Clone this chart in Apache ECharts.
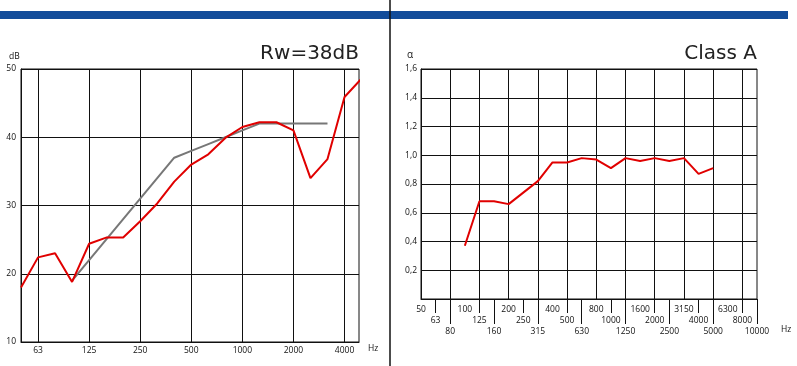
<!DOCTYPE html>
<html>
<head>
<meta charset="utf-8">
<script src="https://cdn.jsdelivr.net/npm/echarts@6/dist/echarts.min.js"></script>
<style>
html,body{margin:0;padding:0;background:#fff;}
#c{width:797px;height:366px;}
</style>
</head>
<body>
<div id="c"></div>
<script>
// ---- Left chart (sound reduction index R, dB) ----
const freqLeft = ['50','63','80','100','125','160','200','250','315','400','500','630','800','1000','1250','1600','2000','2500','3150','4000','5000'];
const measuredR = [18.0, 22.4, 23.0, 18.8, 24.4, 25.3, 25.3, 27.7, 30.3, 33.5, 36.0, 37.5, 39.9, 41.5, 42.2, 42.2, 41.0, 34.0, 36.8, 45.9, 48.6];
const referenceR = [null, null, null, 19, 22, 25, 28, 31, 34, 37, 38, 39, 40, 41, 42, 42, 42, 42, 42, null, null];
const leftTickLabels = ['63','125','250','500','1000','2000','4000'];

// ---- Right chart (sound absorption coefficient alpha) ----
const freqRight = ['50','63','80','100','125','160','200','250','315','400','500','630','800','1000','1250','1600','2000','2500','3150','4000','5000','6300','8000','10000'];
const alphaS = [null, null, null, 0.37, 0.68, 0.68, 0.66, 0.74, 0.82, 0.95, 0.95, 0.98, 0.97, 0.91, 0.98, 0.96, 0.98, 0.96, 0.98, 0.87, 0.91, null, null, null];
const rightGridLines = ['80','125','200','315','500','800','1250','2000','3150','5000','8000'];
const rightRow1 = ['50','100','200','400','800','1600','3150','6300'];
const rightRow2 = ['63','125','250','500','1000','2000','4000','8000'];
const rightRow3 = ['80','160','315','630','1250','2500','5000','10000'];

const titleLeft = 'Rw=38dB';
const titleRight = 'Class A';

function pairs(arr) {
  const out = [];
  arr.forEach((v, i) => { if (v !== null) out.push([i, v]); });
  return out;
}
function idx(list, labels) { return labels.map(l => list.indexOf(l)); }

const FONT = 'Open Sans';
const TXT = '#111';
const lbl = {fontFamily: FONT, fontSize: 8.5, color: TXT};

const chart = echarts.init(document.getElementById('c'), null, {renderer: 'canvas'});

const leftX = {
  gridIndex: 0, type: 'value', min: 0, max: 19.85,
  axisLine: {show: true, lineStyle: {color: '#111', width: 1}},
  axisTick: {show: false, customValues: idx(freqLeft, leftTickLabels)},
  splitLine: {show: true, lineStyle: {color: '#111', width: 1}},
  axisLabel: Object.assign({customValues: idx(freqLeft, leftTickLabels), margin: 4,
    formatter: v => freqLeft[Math.round(v)]}, lbl)
};

function rightAxis(rowLabels, margin, tickLen, isMain) {
  const vals = idx(freqRight, rowLabels);
  return {
    gridIndex: 1, type: 'value', min: 0, max: 23, position: 'bottom',
    axisLine: {show: isMain, lineStyle: {color: '#111', width: 1}},
    axisTick: isMain
      ? {show: false, customValues: idx(freqRight, rightGridLines)}
      : {show: true, customValues: vals, length: tickLen, inside: false, lineStyle: {color: '#111', width: 1}},
    splitLine: {show: isMain, lineStyle: {color: '#111', width: 1}},
    axisLabel: Object.assign({customValues: vals, margin: margin, showMinLabel: true, showMaxLabel: true,
      formatter: v => freqRight[Math.round(v)]}, lbl)
  };
}

chart.setOption({
  animation: false,
  backgroundColor: '#fff',
  grid: [
    {left: 21, top: 69, right: 438, bottom: 24, show: true, borderColor: '#111', borderWidth: 1, containLabel: false},
    {left: 421, top: 69, right: 40, bottom: 67, show: true, borderColor: '#111', borderWidth: 1, containLabel: false}
  ],
  title: [
    {text: titleLeft, right: 797 - 359, top: 44, textStyle: {fontFamily: 'DejaVu Sans', fontSize: 20, fontWeight: 'normal', color: '#222'}, padding: 0},
    {text: titleRight, right: 797 - 757, top: 44, textStyle: {fontFamily: 'DejaVu Sans', fontSize: 20, fontWeight: 'normal', color: '#222'}, padding: 0},
    {text: 'dB', left: 9, top: 52, textStyle: Object.assign({}, lbl, {fontWeight: 'normal'}), padding: 0},
    {text: 'α', left: 407, top: 50, textStyle: Object.assign({}, lbl, {fontWeight: 'normal', fontSize: 10}), padding: 0},
    {text: 'Hz', left: 368, top: 344, textStyle: Object.assign({}, lbl, {fontWeight: 'normal'}), padding: 0},
    {text: 'Hz', left: 781, top: 325, textStyle: Object.assign({}, lbl, {fontWeight: 'normal'}), padding: 0}
  ],
  graphic: [
    {type: 'rect', shape: {x: 0, y: 11, width: 788, height: 8}, style: {fill: '#124c9a'}, z: 1},
    {type: 'line', shape: {x1: 390, y1: 0, x2: 390, y2: 366}, style: {stroke: '#111', lineWidth: 1.5}, z: 2}
  ],
  xAxis: [
    leftX,
    rightAxis(rightRow1, 6, 0, true),
    rightAxis(rightRow2, 17, 14, false),
    rightAxis(rightRow3, 28, 25, false)
  ],
  yAxis: [
    {gridIndex: 0, type: 'value', min: 10, max: 50, interval: 10,
      axisLine: {show: true, lineStyle: {color: '#111', width: 1}},
      axisTick: {show: false},
      splitLine: {show: true, lineStyle: {color: '#111', width: 1}},
      axisLabel: Object.assign({margin: 5}, lbl)},
    {gridIndex: 1, type: 'value', min: 0, max: 1.6, interval: 0.2,
      axisLine: {show: true, lineStyle: {color: '#111', width: 1}},
      axisTick: {show: false},
      splitLine: {show: true, lineStyle: {color: '#111', width: 1}},
      axisLabel: Object.assign({margin: 4, formatter: v => v === 0 ? '' : v.toFixed(1).replace('.', ',')}, lbl)}
  ],
  series: [
    {type: 'line', xAxisIndex: 0, yAxisIndex: 0, data: pairs(referenceR), showSymbol: false, symbol: 'none',
      lineStyle: {color: '#777', width: 2}, z: 3, clip: true},
    {type: 'line', xAxisIndex: 0, yAxisIndex: 0, data: pairs(measuredR), showSymbol: false, symbol: 'none',
      lineStyle: {color: '#e00000', width: 2}, z: 4, clip: true},
    {type: 'line', xAxisIndex: 1, yAxisIndex: 1, data: pairs(alphaS), showSymbol: false, symbol: 'none',
      lineStyle: {color: '#e00000', width: 2}, z: 4, clip: true}
  ]
});
</script>
</body>
</html>
